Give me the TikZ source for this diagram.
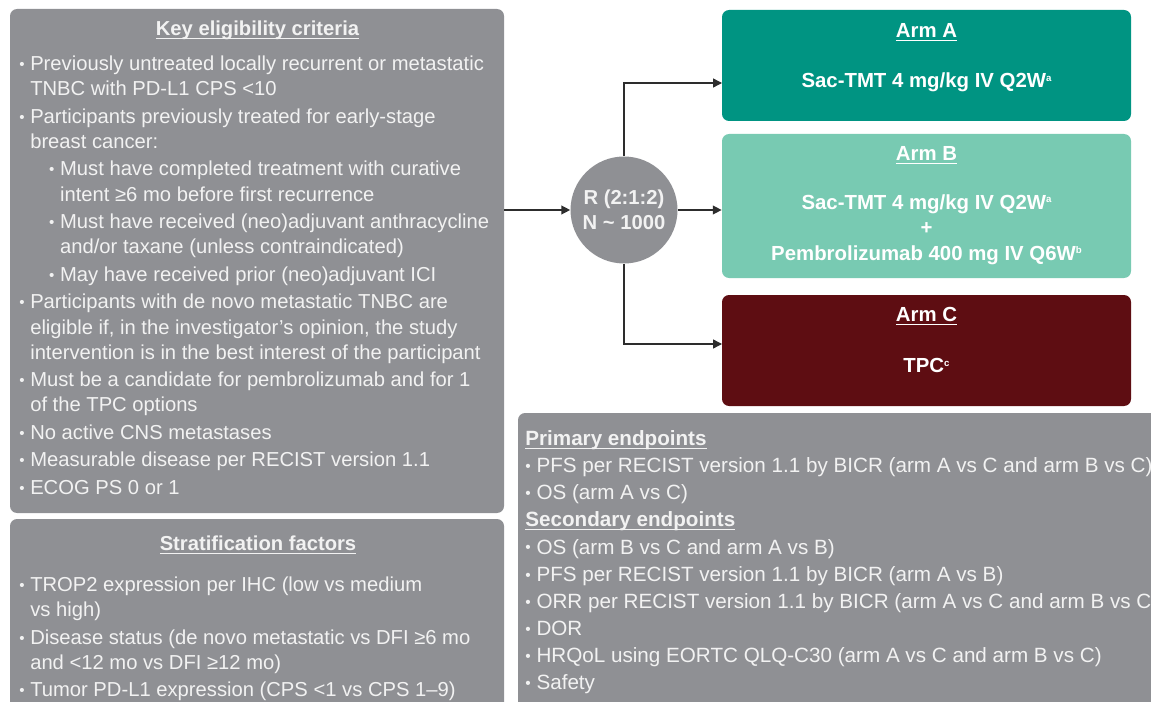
\documentclass[tikz,border=0pt]{standalone}
\usepackage{fontspec}
\setmainfont{Liberation Sans}
\usetikzlibrary{arrows.meta,positioning,fit}

\definecolor{boxgray}{RGB}{143,144,148}
\definecolor{armteal}{RGB}{0,148,130}
\definecolor{armmint}{RGB}{120,202,178}
\definecolor{armred}{RGB}{94,13,18}
\definecolor{txtwhite}{RGB}{242,242,242}
\definecolor{linegray}{RGB}{45,45,45}

\newsavebox\ulbox
\newcommand{\ulin}[1]{\sbox\ulbox{#1}\rlap{\rule[-1.9pt]{\wd\ulbox}{0.7pt}}\usebox\ulbox}
\newcommand{\bul}{\raisebox{0.6pt}{\scalebox{0.75}{\textbullet}}\ }
\newcommand{\cont}{\phantom{\bul}}
\newcommand{\sub}{\hspace*{17pt}}
\newcommand{\sups}[1]{\raisebox{3.6pt}{\fontsize{5.5pt}{5.5pt}\selectfont #1}}

\begin{document}
\begin{tikzpicture}[x=0.02cm,y=-0.02cm,
  box/.style={rounded corners=4pt,fill=boxgray,inner sep=0pt},
  arm/.style={rounded corners=4pt,inner sep=0pt},
  txt/.style={inner sep=0pt,align=left,text=txtwhite,
    font=\fontsize{11.5pt}{14.35pt}\selectfont},
  ttl/.style={inner sep=0pt,anchor=base,text=txtwhite,
    font=\fontsize{11.5pt}{14.35pt}\selectfont\bfseries},
  armtxt/.style={inner sep=0pt,align=center,text=white,
    font=\fontsize{11.6pt}{14.5pt}\selectfont\bfseries},
  arr/.style={-{Triangle[length=5pt,width=5pt]},draw=linegray,line width=0.75pt}]

  \useasboundingbox (0,0) rectangle (1151,702);
  \clip (0,0) rectangle (1151,702);

  % left column
  \node[box,fit={(10,9) (504,513)}] (elig) {};
  \node[box,fit={(10,519) (504,730)}] (strat) {};
  \node[ttl] (eligttl) at (257.5,35.5) {\ulin{Key eligibility criteria}};
  \node[txt,anchor=north west] (eligtxt) at (19,55.5) {%
    \bul Previously untreated locally recurrent or metastatic\\
    \cont TNBC with PD-L1 CPS <10\\[1.3pt]
    \bul Participants previously treated for early-stage\\
    \cont breast cancer:\\[1.3pt]
    \sub\bul Must have completed treatment with curative\\
    \sub\cont intent ≥6 mo before first recurrence\\[1.3pt]
    \sub\bul Must have received (neo)adjuvant anthracycline\\
    \sub\cont and/or taxane (unless contraindicated)\\[1.3pt]
    \sub\bul May have received prior (neo)adjuvant ICI\\[1.3pt]
    \bul Participants with de novo metastatic TNBC are\\
    \cont eligible if, in the investigator’s opinion, the study\\
    \cont intervention is in the best interest of the participant\\[1.3pt]
    \bul Must be a candidate for pembrolizumab and for 1\\
    \cont of the TPC options\\[1.3pt]
    \bul No active CNS metastases\\[1.3pt]
    \bul Measurable disease per RECIST version 1.1\\[1.3pt]
    \bul ECOG PS 0 or 1};
  \node[ttl] (stratttl) at (258,550.5) {\ulin{Stratification factors}};
  \node[txt,anchor=north west] (strattxt) at (19,576.5) {%
    \bul TROP2 expression per IHC (low vs medium\\
    \cont vs high)\\[1.3pt]
    \bul Disease status (de novo metastatic vs DFI ≥6 mo\\
    \cont and <12 mo vs DFI ≥12 mo)\\[1.3pt]
    \bul Tumor PD-L1 expression (CPS <1 vs CPS 1–9)};

  % randomisation
  \node[circle,fill=boxgray,minimum size=2.14cm,inner sep=0pt,align=center,
    text=txtwhite,font=\fontsize{11.5pt}{14.35pt}\selectfont\bfseries]
    (rnd) at (624,210) {R (2:1:2)\\N \textasciitilde{} 1000};

  % arms
  \node[arm,fill=armteal,fit={(722,10) (1131,121)}] (armA) {};
  \node[arm,fill=armmint,fit={(722,134) (1131,278)}] (armB) {};
  \node[arm,fill=armred,fit={(722,295) (1131,406)}] (armC) {};
  \node[armtxt,anchor=base] (armAttl) at (926.5,37.5) {\ulin{Arm A}};
  \node[armtxt,anchor=base] (armAtxt) at (926.5,87.5) {Sac-TMT 4 mg/kg IV Q2W\sups{a}};
  \node[armtxt,anchor=base] (armBttl) at (926.5,160.5) {\ulin{Arm B}};
  \node[armtxt] (armBtxt) at (926.5,229.5) {Sac-TMT 4 mg/kg IV Q2W\sups{a}\\
    +\\Pembrolizumab 400 mg IV Q6W\sups{b}};
  \node[armtxt,anchor=base] (armCttl) at (926.5,321.5) {\ulin{Arm C}};
  \node[armtxt,anchor=base] (armCtxt) at (926.5,372.5) {TPC\sups{c}};

  % endpoints
  \node[box,fit={(518,413) (1180,730)}] (endp) {};
  \node[txt,anchor=north west,font=\fontsize{11.75pt}{15.4pt}\selectfont]
    (endptxt) at (525,430.5) {%
    \textbf{\ulin{Primary endpoints}}\\
    \bul PFS per RECIST version 1.1 by BICR (arm A vs C and arm B vs C)\\
    \bul OS (arm A vs C)\\
    \textbf{\ulin{Secondary endpoints}}\\
    \bul OS (arm B vs C and arm A vs B)\\
    \bul PFS per RECIST version 1.1 by BICR (arm A vs B)\\
    \bul ORR per RECIST version 1.1 by BICR (arm A vs C and arm B vs C)\\
    \bul DOR\\
    \bul HRQoL using EORTC QLQ-C30 (arm A vs C and arm B vs C)\\
    \bul Safety};

  % connectors
  \coordinate (toA) at (722,83);
  \coordinate (toC) at (722,344);
  \draw[arr] (elig.east |- rnd) -- (rnd.west);
  \draw[arr] (rnd.east) -- (armB.west |- rnd);
  \draw[arr] (rnd.north) |- (toA);
  \draw[arr] (rnd.south) |- (toC);
\end{tikzpicture}
\end{document}
